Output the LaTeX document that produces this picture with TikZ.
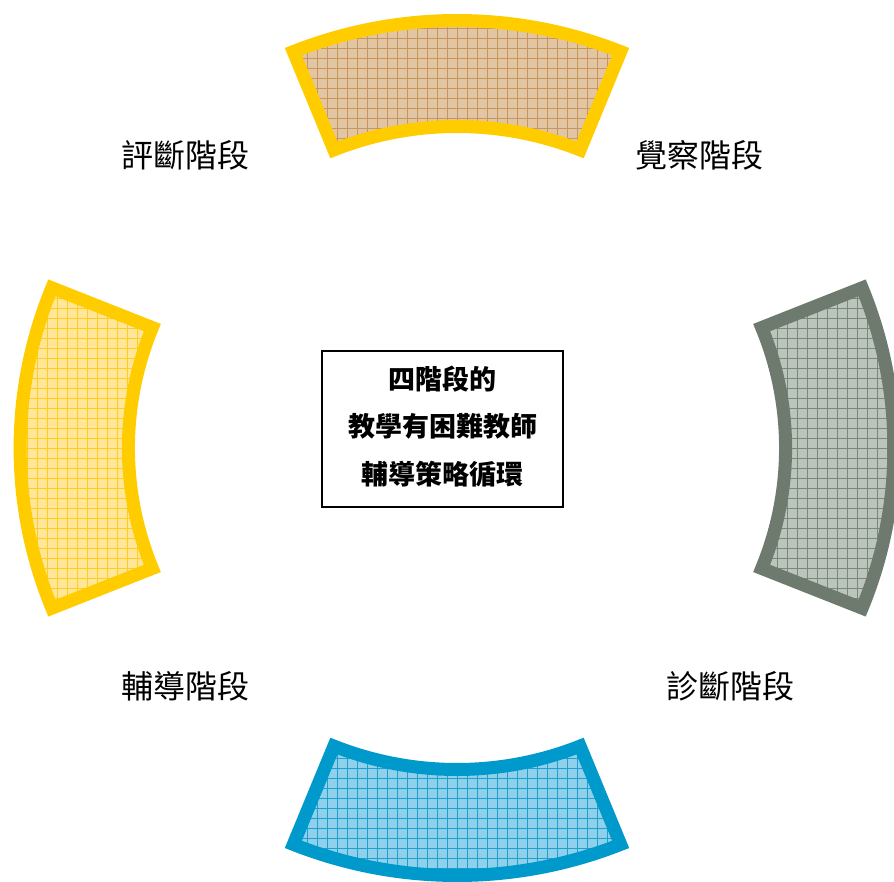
\documentclass[tikz,border=0pt]{standalone}
\usepackage{fontspec}
\setmainfont{Noto Sans CJK TC}
\definecolor{topfill}{HTML}{E2C6A4}
\definecolor{topgrid}{HTML}{C8955C}
\definecolor{yellowborder}{HTML}{FFCC00}
\definecolor{rightfill}{HTML}{BCC5BC}
\definecolor{rightgrid}{HTML}{7A877C}
\definecolor{rightborder}{HTML}{6F7A6E}
\definecolor{botfill}{HTML}{8FD1EB}
\definecolor{botgrid}{HTML}{1E9FD0}
\definecolor{botborder}{HTML}{0099CC}
\definecolor{leftfill}{HTML}{FFE699}
\definecolor{leftgrid}{HTML}{FFCC22}
\newcommand\ringsector[4]{%
  \begin{scope}[shift={(457,433)},xscale=1.022]
    \path[fill=#2] (#1-22:427.5) arc[start angle=#1-22,end angle=#1+22,radius=427.5]
      -- (#1+22:321.5) arc[start angle=#1+22,end angle=#1-22,radius=321.5] -- cycle;
    \begin{scope}
      \clip (#1-22:427.5) arc[start angle=#1-22,end angle=#1+22,radius=427.5]
        -- (#1+22:321.5) arc[start angle=#1+22,end angle=#1-22,radius=321.5] -- cycle;
      \draw[#3,line width=0.7,xscale=0.9785] (-462,-462) grid[step=10] (462,462);
    \end{scope}
    \draw[#4,line width=13,line join=miter] (#1-22:427.5) arc[start angle=#1-22,end angle=#1+22,radius=427.5]
      -- (#1+22:321.5) arc[start angle=#1+22,end angle=#1-22,radius=321.5] -- cycle;
  \end{scope}}
\tikzset{
  stagelabel/.style={font=\fontsize{32}{32}\selectfont,inner sep=0pt},
  centertext/.style={font=\fontsize{27}{27}\selectfont\bfseries,inner sep=0pt},
  titlebox/.style={draw=black,line width=1.3,minimum width=241,minimum height=156,inner sep=0pt}
}
\begin{document}
\begin{tikzpicture}[x=1pt,y=1pt]
\useasboundingbox (0,0) rectangle (894,881);
\ringsector{90}{topfill}{topgrid}{yellowborder}
\ringsector{0}{rightfill}{rightgrid}{rightborder}
\ringsector{270}{botfill}{botgrid}{botborder}
\ringsector{180}{leftfill}{leftgrid}{yellowborder}
\node[titlebox] (box) at (442.5,452) {};
\node[centertext] (t1) at (442.5,502) {四階段的};
\node[centertext] (t2) at (442.5,455) {教學有困難教師};
\node[centertext] (t3) at (442.5,407) {輔導策略循環};
\node[stagelabel] (eval) at (185,726) {評斷階段};
\node[stagelabel] (aware) at (699,726) {覺察階段};
\node[stagelabel] (guide) at (185,195) {輔導階段};
\node[stagelabel] (diag) at (730,195) {診斷階段};
\end{tikzpicture}
\end{document}
